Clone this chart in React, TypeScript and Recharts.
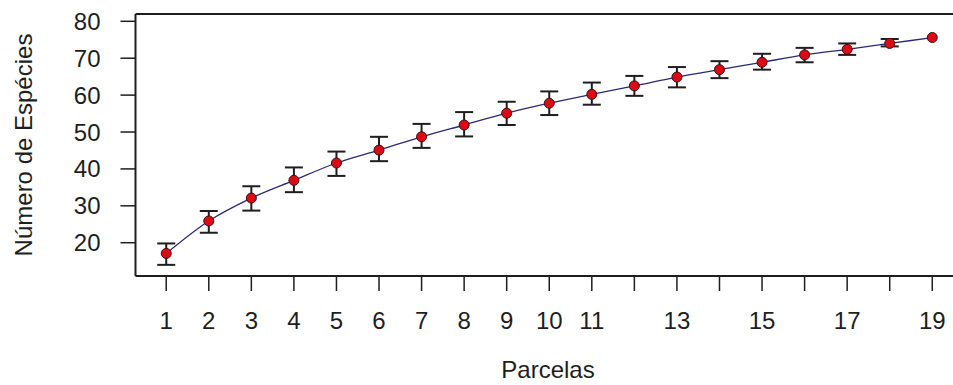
import React from "react";
import {
  ComposedChart,
  Line,
  XAxis,
  YAxis,
  ErrorBar,
  ReferenceLine,
  Label,
} from "recharts";

const parcelas = [1, 2, 3, 4, 5, 6, 7, 8, 9, 10, 11, 12, 13, 14, 15, 16, 17, 18, 19];
const especies = [17.1, 25.9, 32.1, 36.9, 41.6, 45.1, 48.7, 51.9, 55.1, 57.8, 60.2, 62.5, 64.9, 66.9, 68.9, 70.9, 72.4, 74.0, 75.6];
const limiteInferior = [14.0, 22.7, 28.7, 33.7, 38.1, 42.1, 45.7, 48.8, 51.9, 54.6, 57.4, 59.8, 62.1, 64.6, 66.9, 68.9, 70.9, 73.2, null];
const limiteSuperior = [19.8, 28.6, 35.3, 40.4, 44.7, 48.7, 52.2, 55.4, 58.2, 61.0, 63.4, 65.2, 67.6, 69.2, 71.2, 72.8, 74.0, 75.2, null];
const yTicks = [20, 30, 40, 50, 60, 70, 80];
const xLabelsShown = [1, 2, 3, 4, 5, 6, 7, 8, 9, 10, 11, 13, 15, 17, 19];

const X_DOMAIN: [number, number] = [0.278, 19.487];
const Y_DOMAIN: [number, number] = [10.98, 81.98];

const data = parcelas.map((p, i) => {
  const lo = limiteInferior[i];
  const hi = limiteSuperior[i];
  return {
    x: p,
    y: especies[i],
    err: lo == null || hi == null ? null : [especies[i] - lo, hi - especies[i]],
  };
});

const FONT = "'Liberation Sans', Arial, sans-serif";
const INK = "#1e1e1e";

const XTick = (props: any) => {
  const { x, y, payload } = props;
  if (!xLabelsShown.includes(payload.value)) return <g />;
  return (
    <text x={x} y={y} dy="0.71em" textAnchor="middle" fontSize={24} fontFamily={FONT} fill={INK}>
      {payload.value}
    </text>
  );
};

export default function App() {
  return (
    <div style={{ position: "absolute", left: 0, top: 0, width: 953, height: 385, background: "#fff" }}>
      <ComposedChart
        width={953}
        height={385}
        data={data}
        margin={{ top: 14, right: 0, bottom: 0, left: 0 }}
      >
        <XAxis
          dataKey="x"
          type="number"
          domain={X_DOMAIN}
          allowDataOverflow
          ticks={parcelas}
          interval={0}
          height={109}
          tickSize={15}
          tickMargin={21}
          tick={<XTick />}
          axisLine={{ stroke: INK, strokeWidth: 2 }}
          tickLine={{ stroke: INK, strokeWidth: 1.5 }}
        >
          <Label
            content={() => (
              <text x={548} y={378} textAnchor="middle" fontSize={24} fontFamily={FONT} fill={INK}>
                Parcelas
              </text>
            )}
          />
        </XAxis>
        <YAxis
          type="number"
          domain={Y_DOMAIN}
          allowDataOverflow
          ticks={yTicks}
          interval={0}
          width={135.5}
          tickSize={15}
          tickMargin={20}
          tick={{ fontSize: 24, fontFamily: FONT, fill: INK }}
          axisLine={{ stroke: INK, strokeWidth: 2 }}
          tickLine={{ stroke: INK, strokeWidth: 1.5 }}
        >
          <Label
            content={() => (
              <text
                x={23}
                y={145}
                transform="rotate(-90 23 145)"
                textAnchor="middle"
                dominantBaseline="central"
                fontSize={24}
                fontFamily={FONT}
                fill={INK}
              >
                Número de Espécies
              </text>
            )}
          />
        </YAxis>
        <ReferenceLine y={Y_DOMAIN[1]} stroke={INK} strokeWidth={2} />
        <Line
          dataKey="y"
          type="monotone"
          stroke="#2a2a78"
          strokeWidth={1.3}
          isAnimationActive={false}
          dot={{ r: 5, fill: "#dc0a14", stroke: "#3a1010", strokeWidth: 1 }}
          activeDot={false}
        >
          <ErrorBar dataKey="err" width={9} stroke={INK} strokeWidth={2} direction="y" isAnimationActive={false} />
        </Line>
      </ComposedChart>
    </div>
  );
}
